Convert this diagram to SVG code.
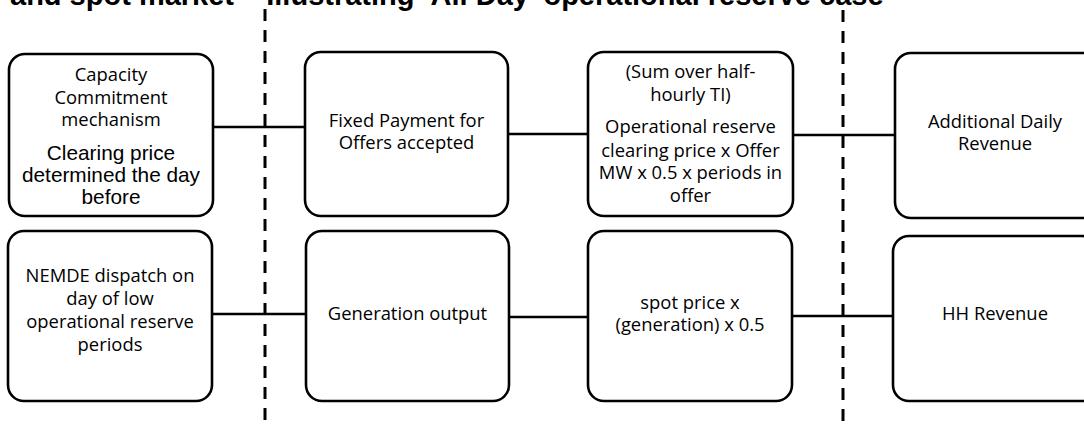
<svg xmlns="http://www.w3.org/2000/svg" width="1084" height="427" viewBox="0 0 1084 427">
<style>
.box{fill:#fff;stroke:#000;stroke-width:2.6}
.t{font-family:"Open Sans","Liberation Sans",sans-serif;font-size:18.4px;fill:#000;text-anchor:middle}
.a{font-family:"Liberation Sans",Arial,sans-serif;font-size:20.8px;fill:#000;text-anchor:middle}
.title{font-family:"Liberation Sans",Arial,sans-serif;font-size:29px;font-weight:bold;fill:#000}
.conn{stroke:#000;stroke-width:2.3;fill:none}
.dash{stroke:#000;stroke-width:3;stroke-dasharray:12 9;fill:none}
</style>
<rect width="1084" height="427" fill="#fff"/>
<text class="title" x="10" y="5">and spot market – Illustrating ‘All Day’ operational reserve case</text>
<g id="connectors">
<line class="dash" x1="265" y1="9" x2="265" y2="427"/>
<line class="dash" x1="843" y1="10" x2="843" y2="427"/>
<line class="conn" x1="213" y1="127" x2="305" y2="127"/>
<line class="conn" x1="508" y1="134" x2="588" y2="134"/>
<line class="conn" x1="793" y1="135" x2="895" y2="135"/>
<line class="conn" x1="212" y1="314" x2="306" y2="314"/>
<line class="conn" x1="509" y1="317" x2="588" y2="317"/>
<line class="conn" x1="792" y1="316" x2="893" y2="316"/>
</g>
<g id="capacity">
<rect class="box" x="9" y="54" width="204" height="162" rx="16"/>
<text class="t" x="111" y="81">Capacity</text>
<text class="t" x="111" y="104">Commitment</text>
<text class="t" x="111" y="126">mechanism</text>
<text class="a" x="111" y="159.5">Clearing price</text>
<text class="a" x="111" y="181.5">determined the day</text>
<text class="a" x="111" y="203.5">before</text>
</g>
<g id="fixed-payment">
<rect class="box" x="305" y="52" width="203" height="164" rx="16"/>
<text class="t" x="406.5" y="126.5">Fixed Payment for</text>
<text class="t" x="406.5" y="149">Offers accepted</text>
</g>
<g id="op-reserve-calc">
<rect class="box" x="588" y="52" width="205" height="164" rx="16"/>
<text class="t" x="690.5" y="78">(Sum over half-</text>
<text class="t" x="690.5" y="101">hourly TI)</text>
<text class="t" x="690.5" y="133"> Operational reserve</text>
<text class="t" x="690.5" y="156.5">clearing price x Offer</text>
<text class="t" x="690.5" y="179">MW x 0.5 x periods in</text>
<text class="t" x="690.5" y="201.5">offer</text>
</g>
<g id="additional-daily">
<rect class="box" x="895" y="53" width="204" height="165" rx="16"/>
<text class="t" x="995" y="128">Additional Daily</text>
<text class="t" x="995" y="150">Revenue</text>
</g>
<g id="nemde">
<rect class="box" x="8" y="231" width="204" height="170" rx="16"/>
<text class="t" x="110" y="282">NEMDE dispatch on</text>
<text class="t" x="110" y="305">day of low</text>
<text class="t" x="110" y="328">operational reserve</text>
<text class="t" x="110" y="351">periods</text>
</g>
<g id="generation">
<rect class="box" x="306" y="231" width="203" height="170" rx="16"/>
<text class="t" x="407.5" y="320">Generation output</text>
</g>
<g id="spot-calc">
<rect class="box" x="588" y="231" width="204" height="170" rx="16"/>
<text class="t" x="690" y="308.5">spot price x</text>
<text class="t" x="690" y="330.5">(generation) x 0.5</text>
</g>
<g id="hh-revenue">
<rect class="box" x="893" y="236" width="205" height="165" rx="16"/>
<text class="t" x="995" y="320">HH Revenue</text>
</g>
</svg>
